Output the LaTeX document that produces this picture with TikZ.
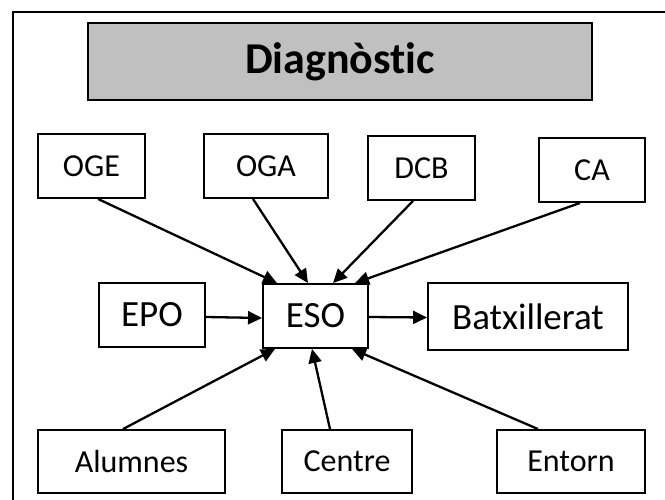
\documentclass[tikz,border=0pt]{standalone}
\usepackage{fontspec}
\setmainfont[Ligatures=NoCommon]{Carlito}
\usetikzlibrary{arrows.meta}
\definecolor{titlegray}{HTML}{C0C0C0}
\begin{document}
\begin{tikzpicture}[x=1pt,y=-1pt,
  box/.style={draw=black,line width=1.9pt,inner sep=0pt,align=center,font=\fontsize{32}{36}\selectfont},
  bigbox/.style={box,font=\fontsize{37}{40}\selectfont},
  titlebox/.style={box,fill=titlegray,font=\fontsize{44}{48}\selectfont\bfseries},
  arr/.style={line width=2.3pt,-{Triangle[length=14pt,width=13pt]}},
  frame/.style={line width=2pt,draw=black}]
\useasboundingbox (0,0) rectangle (665,500);
\coordinate (fbl) at (13,500);
\coordinate (ftl) at (13,12);
\coordinate (ftr) at (665,12);
\draw[frame] (fbl) -- (ftl) -- (ftr);
\node[titlebox,minimum width=504pt,minimum height=77pt] (diag) at (340,61.5) {Diagnòstic};
\node[box,minimum width=107pt,minimum height=64pt] (OGE) at (91.5,166) {OGE};
\node[box,minimum width=124pt,minimum height=64pt] (OGA) at (266,166) {OGA};
\node[box,minimum width=107pt,minimum height=64pt] (DCB) at (421.5,168) {DCB};
\node[box,minimum width=106pt,minimum height=64pt] (CA) at (592,170) {CA};
\node[bigbox,minimum width=106pt,minimum height=64pt] (EPO) at (152,315) {EPO};
\node[bigbox,minimum width=105pt,minimum height=64pt] (ESO) at (315.5,316) {ESO};
\node[bigbox,minimum width=200pt,minimum height=67pt] (BAT) at (528,316.5) {Batxillerat};
\node[box,minimum width=187pt,minimum height=63pt] (ALU) at (131.5,461.5) {Alumnes};
\node[box,minimum width=130pt,minimum height=63pt] (CEN) at (347,461.5) {Centre};
\node[box,minimum width=148pt,minimum height=63pt] (ENT) at (571,461.5) {Entorn};
\draw[arr] ([xshift=6.5pt]OGE.south) -- ([xshift=-38.5pt]ESO.north);
\draw[arr] ([xshift=-13pt]OGA.south) -- ([xshift=-7.5pt]ESO.north);
\draw[arr] ([xshift=-8.5pt]DCB.south) -- ([xshift=17.5pt]ESO.north);
\draw[arr] ([xshift=-12pt]CA.south) -- ([xshift=39.5pt]ESO.north);
\draw[arr] ([yshift=-2pt]EPO.east) -- ([yshift=-2pt]ESO.west);
\draw[arr] ([yshift=-1pt]ESO.east) -- ([yshift=-1pt]BAT.west);
\draw[arr] ([xshift=-8.5pt]ALU.north) -- ([xshift=-40.5pt]ESO.south);
\draw[arr] ([xshift=-17pt]CEN.north) -- ([xshift=-3.5pt]ESO.south);
\draw[arr] ([xshift=-33pt]ENT.north) -- ([xshift=36.5pt]ESO.south);
\end{tikzpicture}
\end{document}
